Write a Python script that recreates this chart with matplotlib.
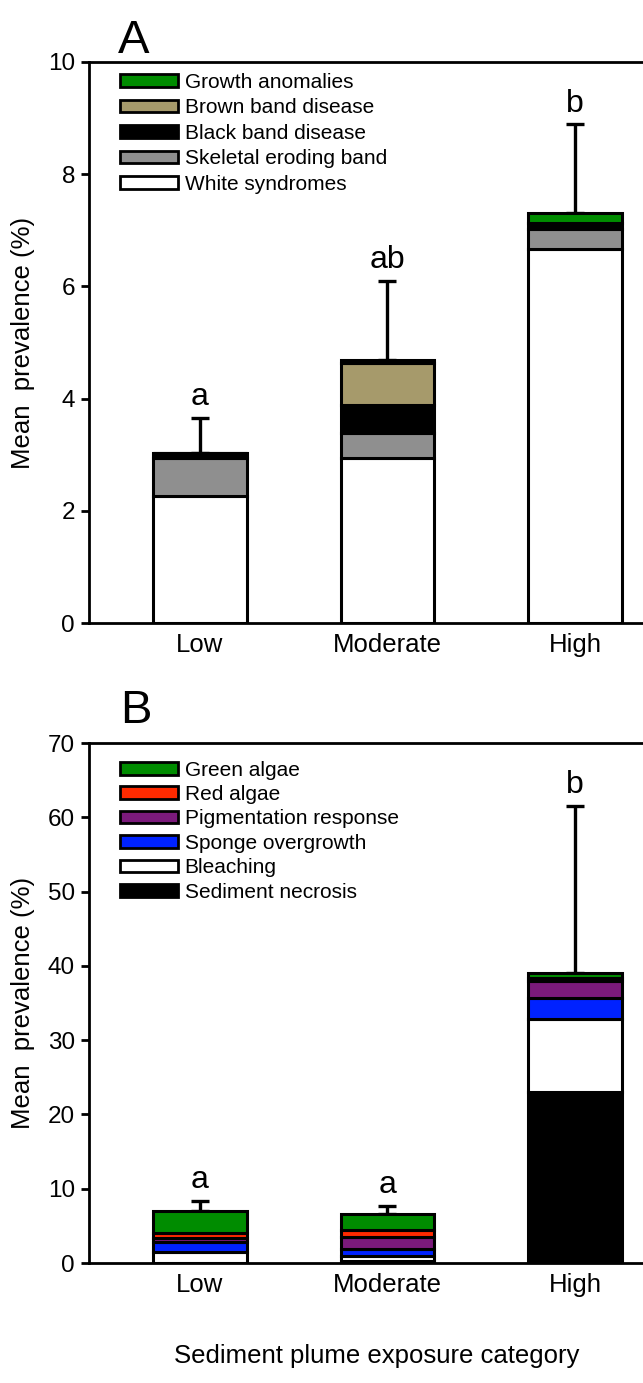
import matplotlib
matplotlib.use("Agg")
import matplotlib.pyplot as plt
from matplotlib.patches import Patch
import numpy as np

plt.rcParams.update({
    "font.family": ["Liberation Sans", "DejaVu Sans"],
    "font.size": 18,
    "axes.linewidth": 2.0,
})

categories = ["Low", "Moderate", "High"]

# Panel A: disease prevalence (%) stacked from the bottom up
a_series = ["White syndromes", "Skeletal eroding band", "Black band disease",
            "Brown band disease", "Growth anomalies"]
a_colors = ["#FFFFFF", "#8F8F8F", "#000000", "#A69A6B", "#008C00"]
white_syndromes = [2.26, 2.94, 6.66]
skeletal_eroding = [0.68, 0.45, 0.37]
black_band = [0.09, 0.50, 0.10]
brown_band = [0.00, 0.74, 0.00]
growth_anomalies = [0.00, 0.05, 0.17]
a_err = [0.63, 1.42, 1.59]
a_letters = ["a", "ab", "b"]

# Panel B: compromised health (%) stacked from the bottom up
b_series = ["Sediment necrosis", "Bleaching", "Sponge overgrowth",
            "Pigmentation response", "Red algae", "Green algae"]
b_colors = ["#000000", "#FFFFFF", "#0022FF", "#7B1A7B", "#FF2A00", "#008C00"]
sediment_necrosis = [0.00, 0.30, 23.0]
bleaching = [1.50, 0.60, 9.8]
sponge_overgrowth = [1.30, 1.00, 2.9]
pigmentation = [0.60, 1.60, 2.2]
red_algae = [0.60, 1.00, 0.5]
green_algae = [3.00, 2.10, 0.6]
b_err = [1.4, 1.1, 22.5]
b_letters = ["a", "a", "b"]

W_PX, H_PX = 643, 1383
fig = plt.figure(figsize=(W_PX / 100, H_PX / 100), dpi=100)


def axes_px(left, top, right, bottom):
    return fig.add_axes([left / W_PX, 1 - bottom / H_PX,
                         (right - left) / W_PX, (bottom - top) / H_PX])


def stacked(ax, layers, colors, names, err, letters, ymax, ystep, letter_pad,
            legend_top_px, legend_gap):
    x = np.arange(len(categories))
    bottom = np.zeros(len(categories))
    for vals, col in zip(layers, colors):
        ax.bar(x, vals, width=0.50, bottom=bottom, color=col,
               edgecolor="black", linewidth=2.2, zorder=3)
        bottom = bottom + np.array(vals)
    ax.errorbar(x, bottom, yerr=[np.zeros(len(x)), err], fmt="none",
                ecolor="black", elinewidth=2.4, capsize=6.5, capthick=2.4,
                zorder=2)
    for xi, top, e, lab in zip(x, bottom, err, letters):
        ax.text(xi, top + e + letter_pad, lab, ha="center", va="bottom",
                fontsize=23)

    ax.set_xlim(-0.592, 2.363)
    ax.set_ylim(0, ymax)
    ax.set_yticks(np.arange(0, ymax + 0.01, ystep))
    ax.set_xticks(x)
    ax.set_xticklabels(categories)
    ax.tick_params(axis="y", direction="out", length=6, width=2,
                   labelsize=17.5, pad=4)
    ax.tick_params(axis="x", length=0, labelsize=18.5, pad=7)
    ax.spines["right"].set_visible(False)
    ax.set_ylabel("Mean  prevalence (%)", fontsize=18.5)
    ax.yaxis.set_label_coords(-0.098, 0.5)

    handles = [Patch(facecolor=c, edgecolor="black", linewidth=2.0)
               for c in colors[::-1]]
    ax.legend(handles, names[::-1], loc="upper left",
              bbox_to_anchor=(31 / 554, 1 - legend_top_px / 561),
              frameon=False, fontsize=15, handlelength=2.8,
              handleheight=0.55, handletextpad=0.3, labelspacing=legend_gap,
              borderaxespad=0, borderpad=0)


ax_a = axes_px(89, 62, 643, 623)
stacked(ax_a, [white_syndromes, skeletal_eroding, black_band, brown_band,
               growth_anomalies],
        a_colors, a_series, a_err, a_letters, 10, 2, 0.10, 11, 0.31)
ax_a.text(0.052, 0.998, "A", transform=ax_a.transAxes, fontsize=34,
          ha="left", va="bottom")

ax_b = axes_px(89, 743, 643, 1263)
stacked(ax_b, [sediment_necrosis, bleaching, sponge_overgrowth, pigmentation,
               red_algae, green_algae],
        b_colors, b_series, b_err, b_letters, 70, 10, 0.8, 19, 0.26)
ax_b.text(0.056, 1.02, "B", transform=ax_b.transAxes, fontsize=34,
          ha="left", va="bottom")
ax_b.set_xlabel("Sediment plume exposure category", fontsize=18.5)
ax_b.xaxis.set_label_coords(0.52, -0.155)

fig.savefig("out.png", dpi=100, facecolor="white")
